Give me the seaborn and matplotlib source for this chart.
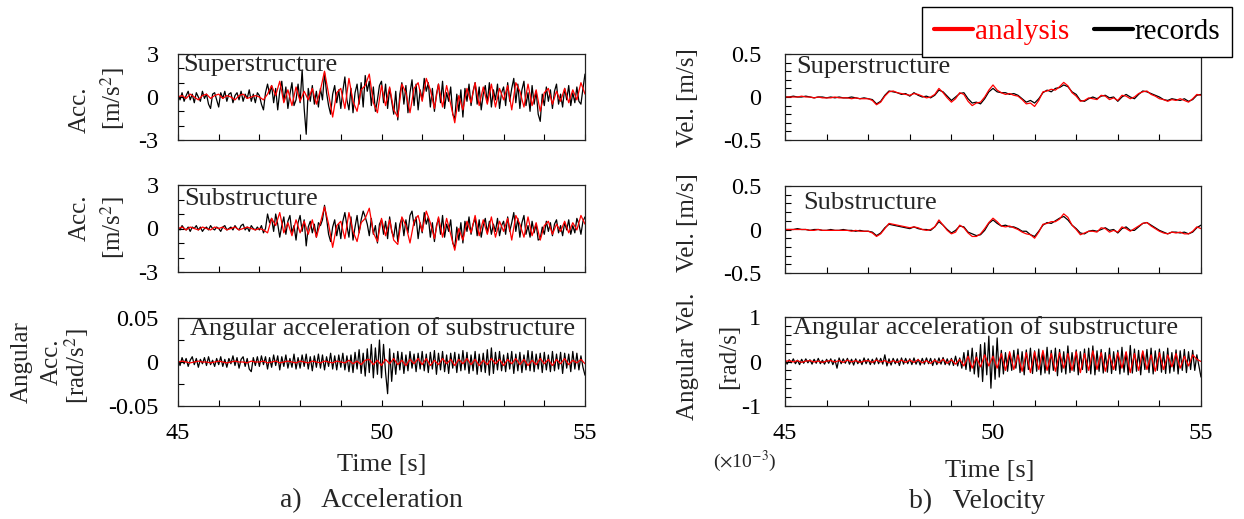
import numpy as np
import matplotlib
matplotlib.use("Agg")
import matplotlib.pyplot as plt
import seaborn as sns
from matplotlib.ticker import MultipleLocator, FixedLocator

# time axes: records sampled every 0.05 s, analysis every 0.1 s
t_fine = np.round(np.arange(45.0, 55.0001, 0.05), 2)
t_coarse = np.round(np.arange(45.0, 55.0001, 0.1), 2)

# a) Superstructure acceleration [m/s2]
acc_sup_rec = [
    0.2, -0.2, 0.3, -0.3, 0.1, 0.4, -0.2, 0.2, -0.4, 0.3, 0.0, -0.3, 0.4, -0.1, 0.2, -0.5, -0.8, 0.2, 0.3, -0.2,
    -0.7, 0.3, -0.1, 0.4, -0.3, 0.2, 0.3, -0.4, 0.1, 0.3, -0.2, 0.4, -0.3, 0.2, -0.1, 0.5, -0.3, 0.2, -0.4, 0.3,
    0.1, -0.5, -0.9, 0.3, 0.9, 0.2, 0.8, -0.4, 0.6, -0.9, 0.4, 1.1, -0.3, 0.7, -0.8, 0.2, 1.0, -0.6, -0.2, 0.9,
    -0.4, 1.9, -0.8, -2.6, 0.6, -0.3, 0.8, -0.5, 0.4, -0.7, 0.6, -0.2, 1.7, 0.3, -0.6, -1.2, 0.2, 0.8, -0.4, 0.5,
    -0.8, 0.4, 1.4, -0.2, -0.9, 0.6, -1.1, 0.3, 0.9, -0.5, 1.0, -0.7, 1.5, 0.4, 1.1, -0.6, 0.7, -1.0, -0.2, 0.8,
    1.1, -0.4, 0.9, -0.8, 0.6, -0.3, -1.2, 0.4, -1.6, 0.2, 1.0, -0.5, 0.8, -1.1, 0.3, 1.2, -0.6, 0.9, -0.9, 0.5,
    -0.2, 1.3, 0.4, 1.0, -0.7, 0.6, -1.0, 0.2, 0.9, -0.4, 1.1, -0.8, 0.3, -0.3, 0.7, -1.2, -1.5, 0.2, -1.0, 0.5,
    -1.4, 0.6, -0.3, 0.9, -0.6, 0.4, 1.0, -0.5, 0.7, -0.9, 0.2, 0.8, -0.4, 1.0, -0.7, 0.5, -0.2, 0.9, -0.8, 0.3,
    0.7, -0.6, 1.0, -0.3, 0.6, 1.3, -0.4, 0.9, -0.8, 0.5, 1.1, -0.6, 0.3, -1.0, 0.8, -0.5, 0.4, -1.2, -1.7, 0.2,
    -0.6, 0.7, -0.3, 0.5, -0.8, 0.4, 0.9, -0.5, 0.2, -0.7, 0.6, -0.2, 0.8, -0.6, 0.3, -0.4, 0.7, -0.3, -0.5, 0.6, 1.6,
]
acc_sup_ana = [
    0.0, 0.1, -0.1, 0.2, 0.0, -0.2, 0.1, 0.2, -0.1, 0.1,
    0.2, -0.1, 0.1, 0.0, -0.2, 0.1, 0.2, -0.1, 0.0, 0.1,
    0.0, -0.2, 0.2, 0.8, 0.1, 1.1, -0.4, 0.5, -0.6, 0.7,
    -0.3, 0.4, -0.2, 0.6, -0.5, 0.5, 1.8, 0.2, -1.4, 0.3,
    0.6, -0.8, 1.3, -0.3, -1.0, 0.5, 0.8, 1.6, -0.4, -1.1,
    0.8, -0.6, 0.7, -0.9, -1.4, 0.9, 0.3, -1.1, 0.6, 1.0,
    -0.3, 1.3, 0.5, -0.8, 0.9, -0.7, 0.8, -0.5, -1.8, 0.1,
    -0.9, 0.6, -0.4, 1.0, -0.6, 0.7, -0.5, 0.9, -0.7, 0.6,
    -0.2, 0.8, -0.9, 1.0, 0.4, -0.7, 0.9, -0.6, 0.5, -1.0,
    0.3, 0.6, -0.5, 0.4, -0.3, 0.6, -0.4, 0.5, -0.2, 1.0, 0.2,
]

# a) Substructure acceleration [m/s2]
acc_sub_rec = [
    0.1, -0.1, 0.2, 0.0, -0.1, 0.1, -0.2, 0.1, 0.0, 0.2, -0.1, 0.1, -0.2, 0.0, 0.1, -0.1, 0.2, 0.0, -0.1, 0.1,
    0.0, -0.2, 0.1, 0.2, -0.1, 0.0, 0.1, -0.1, 0.2, 0.0, -0.1, 0.2, 0.3, -0.1, 0.1, -0.2, 0.2, 0.0, -0.1, 0.1,
    -0.1, 0.2, -0.3, 0.0, 1.0, 0.4, 0.7, -0.2, 1.0, 0.3, -0.6, 0.2, 0.8, -0.4, 0.5, 0.9, -0.3, 0.2, -0.8, 0.4,
    0.9, -0.2, 0.6, -1.2, 0.1, 0.5, -0.3, 0.3, -0.6, 0.4, 0.2, 0.6, 1.6, 0.7, -0.4, -0.9, 0.1, 0.6, -0.5, 0.3,
    -0.7, 0.5, 1.1, 0.2, -0.6, 0.8, -0.8, 0.1, 0.9, -0.3, 0.6, 1.2, 0.8, 0.3, -0.5, 0.7, -0.4, 0.2, -1.0, 0.3,
    0.6, -0.4, 0.5, -0.7, 0.8, -0.2, -0.6, 0.4, -0.9, 0.3, 0.7, -0.5, 0.6, -0.3, 0.9, 1.2, 0.2, 0.8, -0.7, 0.4,
    -0.3, 1.1, 0.3, 0.8, -0.6, 0.4, -0.9, 0.2, 0.7, -0.4, 0.9, -0.6, 0.3, -0.2, 0.6, -1.0, -1.3, 0.1, -0.8, 0.4,
    -1.0, 0.5, -0.2, 0.8, -0.4, 0.3, 0.7, -0.5, 0.6, -0.6, 0.2, 0.7, -0.3, 0.5, -0.4, 0.3, -0.2, 0.7, -0.5, 0.2,
    0.5, -0.4, 0.8, -0.2, 0.4, 1.1, -0.2, 0.7, -0.6, 0.4, 0.9, -0.4, 0.2, -0.6, 0.5, -0.3, 0.3, -0.8, -0.7, 0.1,
    -0.4, 0.5, -0.2, 0.4, -0.5, 0.3, 0.6, -0.3, 0.2, -0.5, 0.4, -0.1, 0.6, -0.4, 0.2, -0.3, 0.7, 0.3, -0.4, 0.5, 0.8,
]
acc_sub_ana = [
    0.0, 0.1, -0.1, 0.1, 0.0, -0.1, 0.1, 0.0, -0.1, 0.1,
    0.0, 0.1, -0.1, 0.0, 0.1, -0.1, 0.0, 0.1, 0.0, -0.1,
    0.0, -0.1, -0.3, 0.7, 0.2, 1.1, -0.3, 0.4, -0.5, 0.6,
    -0.3, 0.5, -0.4, 0.6, -0.6, 0.4, 1.5, 0.3, -1.3, 0.2,
    0.5, -0.7, 1.1, -0.2, -0.9, 0.4, 0.7, 1.4, -0.3, -0.9,
    0.7, -0.5, 0.6, -0.8, -1.1, 0.8, 0.2, -1.0, 0.5, 0.9,
    -0.2, 1.2, 0.4, -0.7, 0.8, -0.6, 0.7, -0.4, -1.5, 0.0,
    -0.8, 0.5, -0.3, 0.9, -0.5, 0.6, -0.4, 0.8, -0.6, 0.5,
    -0.2, 0.7, -0.8, 0.9, 0.3, -0.6, 0.8, -0.5, 0.4, -0.8,
    0.2, 0.5, -0.4, 0.3, -0.2, 0.5, -0.3, 0.4, -0.1, 0.9, 0.3,
]

# a) Angular acceleration of substructure [x1e-3 rad/s2]
ang_acc_rec = [
    3, -4, 5, -2, 4, -5, 2, 6, -3, 4, -6, 3, -2, 5, -4, 6, -3, 2, -5, 4,
    -3, 6, -5, 3, -6, 4, -2, 7, -4, 5, -7, 3, 6, -5, 4, -8, -11, 5, -4, 6,
    -5, 7, -3, 6, -8, 5, -6, 8, -4, 7, -9, 6, -5, 8, -7, 4, -6, 9, -8, 5,
    -7, 8, -5, 9, -8, 6, -10, 7, -6, 9, -7, 8, -9, 6, -5, 10, -8, 7, -9, 8,
    -6, 10, -9, 7, -11, 8, -12, 11, -8, 14, -13, 10, -16, 15, -12, 20, -18, 16, -14, 25,
    -18, 20, -12, -36, 15, -22, 10, -14, 12, -9, 11, -13, 8, -10, 12, -7, 9, -11, 10, -8,
    12, -10, 9, -12, 11, -8, 13, -14, 10, -9, 12, -11, 8, -13, 10, -7, 11, -12, 9, -10,
    13, -9, 11, -13, 8, -10, 12, -14, 9, -11, 10, -12, 14, -15, 16, -13, 11, -9, 12, -10,
    8, -11, 10, -8, 12, -13, 9, -10, 11, -12, 8, -9, 13, -10, 12, -11, 9, -8, 10, -12,
    11, -9, 8, -11, 12, -10, 9, -8, 11, -13, 10, -7, 9, -11, 12, -8, 10, -9, 7, -6, -15,
]
ang_acc_ana = [
    0, 1, 0, -1, 0, 1, 0, 0, -1, 0,
    1, 0, -1, 0, 1, 0, 0, -1, 1, 0,
    0, 1, -1, 0, 1, -1, 0, 1, 0, -1,
    1, 0, -1, 1, 0, -1, 1, 0, -1, 1,
    0, -1, 2, -2, 1, -3, 2, 3, -3, 2,
    -4, 3, -2, 4, -3, 2, -4, 3, -2, 4,
    -3, 4, -4, 2, -3, 4, -2, 3, -4, 3,
    -2, 4, -3, 3, -4, 2, -3, 4, -2, 3,
    -4, 3, -2, 4, -3, 3, -4, 2, -3, 4,
    -2, 3, -4, 3, -2, 4, -3, 2, -1, 3, -2,
]

# b) Superstructure velocity [m/s]
vel_sup_rec = [
    0.00, 0.00, 0.01, 0.00, 0.00, 0.01, 0.00, -0.01, 0.00, 0.00,
    -0.01, 0.00, -0.01, 0.00, -0.01, -0.01, 0.00, -0.01, -0.02, -0.01,
    -0.02, -0.03, -0.08, -0.05, 0.02, 0.07, 0.06, 0.05, 0.03, 0.04,
    0.01, 0.05, 0.02, 0.00, 0.01, -0.01, 0.02, 0.08, 0.06, 0.01,
    -0.04, 0.00, 0.04, 0.05, -0.02, -0.07, -0.06, -0.08, -0.02, 0.06,
    0.10, 0.06, 0.05, 0.05, 0.03, 0.04, 0.02, -0.02, -0.06, -0.04,
    -0.07, -0.02, 0.05, 0.08, 0.06, 0.10, 0.11, 0.14, 0.12, 0.06,
    0.03, -0.04, -0.05, -0.02, 0.00, -0.02, 0.01, 0.02, -0.01, 0.00,
    -0.05, 0.00, 0.03, 0.00, -0.02, 0.03, 0.07, 0.06, 0.04, 0.02,
    0.00, -0.03, -0.04, -0.02, -0.03, -0.04, -0.02, -0.05, -0.03, 0.02, 0.03,
]
vel_sup_ana = [
    0.00, 0.00, 0.00, 0.00, 0.01, 0.00, 0.00, -0.01, 0.00, -0.01,
    -0.01, -0.01, 0.00, -0.01, -0.01, -0.01, -0.02, -0.01, -0.02, -0.02,
    -0.02, -0.04, -0.09, -0.06, 0.01, 0.06, 0.07, 0.05, 0.04, 0.03,
    0.02, 0.04, 0.03, 0.01, -0.01, 0.00, 0.03, 0.10, 0.05, -0.01,
    -0.06, -0.02, 0.05, 0.03, -0.05, -0.10, -0.07, -0.06, 0.00, 0.08,
    0.14, 0.08, 0.05, 0.03, 0.04, 0.02, 0.01, -0.03, -0.08, -0.07,
    -0.11, -0.04, 0.06, 0.07, 0.09, 0.08, 0.12, 0.17, 0.13, 0.05,
    0.01, -0.05, -0.04, -0.01, -0.02, -0.03, 0.02, 0.01, -0.03, -0.01,
    -0.04, 0.02, 0.01, -0.02, 0.00, 0.04, 0.06, 0.07, 0.03, 0.01,
    -0.02, -0.03, -0.05, -0.03, -0.04, -0.02, -0.04, -0.06, -0.02, 0.03, 0.02,
]

# b) Substructure velocity [m/s]
vel_sub_rec = [
    0.00, 0.00, 0.00, 0.01, 0.00, 0.00, -0.01, 0.00, 0.00, -0.01,
    -0.01, 0.00, -0.01, -0.01, 0.00, -0.01, -0.01, -0.02, -0.01, -0.02,
    -0.02, -0.03, -0.07, -0.04, 0.02, 0.06, 0.05, 0.04, 0.03, 0.02,
    0.01, 0.03, 0.01, 0.00, 0.00, -0.01, 0.03, 0.09, 0.05, 0.00,
    -0.04, -0.01, 0.04, 0.03, -0.03, -0.05, -0.07, -0.06, -0.01, 0.07,
    0.11, 0.07, 0.04, 0.05, 0.03, 0.03, 0.01, -0.02, -0.02, -0.06,
    -0.08, -0.02, 0.05, 0.08, 0.07, 0.10, 0.13, 0.15, 0.11, 0.05,
    0.01, -0.04, -0.05, -0.02, -0.01, -0.02, 0.00, 0.02, -0.01, 0.00,
    -0.04, 0.01, 0.03, -0.01, -0.01, 0.03, 0.07, 0.08, 0.05, 0.02,
    -0.01, -0.03, -0.05, -0.03, -0.03, -0.04, -0.03, -0.05, -0.03, 0.02, 0.05,
]
vel_sub_ana = [
    0.00, 0.00, 0.00, 0.00, 0.00, 0.00, -0.01, -0.01, 0.00, -0.01,
    -0.01, -0.01, -0.01, -0.01, -0.01, -0.01, -0.02, -0.01, -0.02, -0.02,
    -0.02, -0.04, -0.08, -0.05, 0.01, 0.07, 0.06, 0.05, 0.04, 0.03,
    0.02, 0.03, 0.02, 0.00, -0.01, 0.00, 0.03, 0.11, 0.05, -0.01,
    -0.05, -0.03, 0.05, 0.02, -0.04, -0.08, -0.08, -0.05, 0.01, 0.08,
    0.13, 0.09, 0.04, 0.03, 0.04, 0.02, 0.00, -0.03, -0.05, -0.06,
    -0.10, -0.03, 0.06, 0.07, 0.09, 0.09, 0.12, 0.18, 0.14, 0.05,
    0.00, -0.06, -0.04, -0.02, -0.02, -0.03, 0.02, 0.01, -0.03, -0.01,
    -0.03, 0.03, 0.01, -0.02, 0.01, 0.04, 0.07, 0.08, 0.04, 0.01,
    -0.02, -0.04, -0.05, -0.03, -0.04, -0.03, -0.05, -0.05, -0.02, 0.03, 0.01,
]

# b) Angular velocity of substructure [x1e-3 rad/s]
ang_vel_rec = [
    0.05, -0.06, 0.04, -0.03, 0.06, -0.05, 0.03, -0.07, 0.05, -0.04, 0.06, -0.03, 0.04, -0.06, 0.05, -0.04, 0.07, -0.05, 0.03, -0.06,
    0.05, -0.04, 0.06, -0.07, 0.04, -0.15, 0.08, -0.05, 0.06, -0.04, 0.07, -0.06, 0.05, -0.08, 0.06, -0.05, 0.04, -0.07, 0.08, -0.05,
    0.06, -0.07, 0.05, -0.06, 0.08, -0.05, 0.07, -0.06, 0.15, -0.10, 0.06, -0.08, 0.07, -0.05, 0.06, -0.09, 0.08, -0.06, 0.07, -0.05,
    0.06, -0.07, 0.08, -0.06, 0.05, -0.08, 0.07, -0.06, 0.08, -0.05, 0.07, -0.09, 0.06, -0.07, 0.08, -0.06, 0.09, -0.07, 0.06, -0.08,
    0.07, -0.09, 0.12, -0.10, 0.08, -0.15, 0.20, -0.18, 0.25, -0.22, 0.30, -0.28, 0.20, -0.35, 0.38, -0.45, 0.42, -0.30, 0.57, -0.60,
    0.35, -0.40, 0.53, -0.35, 0.25, -0.28, 0.20, -0.22, 0.18, -0.20, 0.25, -0.15, 0.28, -0.25, 0.22, -0.30, 0.26, -0.18, 0.30, -0.27,
    0.24, -0.22, 0.28, -0.30, 0.20, -0.26, 0.32, -0.28, 0.25, -0.20, 0.30, -0.32, 0.27, -0.24, 0.22, -0.28, 0.35, -0.25, 0.20, -0.22,
    0.26, -0.30, 0.22, -0.18, 0.28, -0.25, 0.30, -0.28, 0.35, -0.30, 0.24, -0.22, 0.27, -0.26, 0.20, -0.24, 0.30, -0.27, 0.22, -0.20,
    0.25, -0.28, 0.32, -0.24, 0.20, -0.30, 0.36, -0.26, 0.28, -0.22, 0.25, -0.30, 0.22, -0.18, 0.27, -0.25, 0.30, -0.28, 0.24, -0.20,
    0.28, -0.24, 0.22, -0.27, 0.30, -0.26, 0.20, -0.22, 0.26, -0.28, 0.24, -0.20, 0.27, -0.25, 0.22, -0.18, 0.25, -0.20, 0.15, -0.10, -0.35,
]
ang_vel_ana = [
    0.00, 0.02, -0.01, 0.02, -0.02, 0.01, 0.02, -0.01, 0.01, -0.02,
    0.01, 0.02, -0.01, 0.02, -0.02, 0.03, -0.01, 0.02, -0.02, 0.01,
    0.02, -0.02, 0.03, -0.01, 0.02, -0.03, 0.02, -0.02, 0.03, -0.02,
    0.03, -0.02, 0.04, -0.03, 0.02, -0.04, 0.03, -0.03, 0.05, -0.04,
    0.04, -0.06, 0.05, -0.10, 0.12, -0.15, 0.10, -0.12, 0.15, -0.10,
    0.12, -0.15, 0.18, -0.20, 0.22, -0.18, 0.15, -0.22, 0.20, -0.25,
    0.22, -0.18, 0.25, -0.20, 0.18, -0.22, 0.20, -0.15, 0.18, -0.20,
    0.22, -0.25, 0.18, -0.20, 0.24, -0.18, 0.20, -0.22, 0.15, -0.18,
    0.20, -0.15, 0.22, -0.25, 0.18, -0.20, 0.24, -0.18, 0.15, -0.22,
    0.20, -0.18, 0.15, -0.12, 0.18, -0.15, 0.12, -0.10, 0.15, 0.05, 0.00,
]

W, H = 1244, 519

sns.set_style("ticks")
plt.rcParams['font.family'] = ['Liberation Serif', 'DejaVu Serif']
plt.rcParams['mathtext.fontset'] = 'stix'
plt.rcParams['axes.unicode_minus'] = False

TICK_FS = 17.5
PANEL_FS = 19
LABEL_FS = 18


def px_axes(fig, x0, y0, x1, y1):
    """Add axes from pixel box (top-left origin)"""
    return fig.add_axes([x0 / W, 1 - y1 / H, (x1 - x0) / W, (y1 - y0) / H])


def style_axes(ax, ylim, yticks, yminor, show_xlabels, ypad):
    ax.set_xlim(45, 55)
    ax.set_ylim(*ylim)
    ax.xaxis.set_major_locator(FixedLocator([45, 50, 55]))
    ax.xaxis.set_minor_locator(MultipleLocator(1))
    ax.yaxis.set_major_locator(FixedLocator(yticks))
    ax.yaxis.set_minor_locator(MultipleLocator(yminor))
    ax.tick_params(which='both', direction='in', length=4.5, width=0.8,
                   top=False, right=False, colors='black', labelsize=TICK_FS)
    ax.tick_params(axis='y', which='major', pad=ypad)
    ax.tick_params(axis='x', which='major', pad=12)
    if not show_xlabels:
        ax.set_xticklabels([])
    for s in ax.spines.values():
        s.set_color('#222222')
        s.set_linewidth(0.9)
    ax.set_xlabel('')
    ax.set_ylabel('')


def draw(ax, rec, ana, scale=1.0):
    sns.lineplot(x=t_fine, y=np.array(rec) * scale, ax=ax, color='black', lw=0.9)
    sns.lineplot(x=t_coarse, y=np.array(ana) * scale, ax=ax, color='red', lw=0.9)


fig = plt.figure(figsize=(W / 100, H / 100), dpi=100)

# ---- a) Acceleration ----
ax1 = px_axes(fig, 178, 54, 585, 140)
draw(ax1, acc_sup_rec, acc_sup_ana)
style_axes(ax1, (-3, 3), [-3, 0, 3], 1, False, 14)
ax1.text(0.012, 1.0, 'Superstructure', transform=ax1.transAxes, ha='left', va='top', fontsize=PANEL_FS)

ax2 = px_axes(fig, 178, 185, 585, 272)
draw(ax2, acc_sub_rec, acc_sub_ana)
style_axes(ax2, (-3, 3), [-3, 0, 3], 1, False, 14)
ax2.text(0.015, 0.96, 'Substructure', transform=ax2.transAxes, ha='left', va='top', fontsize=PANEL_FS)

ax3 = px_axes(fig, 178, 318, 585, 406)
draw(ax3, ang_acc_rec, ang_acc_ana, scale=1e-3)
style_axes(ax3, (-0.05, 0.05), [-0.05, 0, 0.05], 0.025, True, 14)
ax3.set_yticklabels(['-0.05', '0', '0.05'])
ax3.text(0.03, 1.01, 'Angular acceleration of substructure', transform=ax3.transAxes,
         ha='left', va='top', fontsize=PANEL_FS)

# ---- b) Velocity ----
ax4 = px_axes(fig, 785, 54, 1201, 140)
sns.lineplot(x=t_coarse, y=vel_sup_rec, ax=ax4, color='black', lw=0.9)
sns.lineplot(x=t_coarse, y=vel_sup_ana, ax=ax4, color='red', lw=0.9)
style_axes(ax4, (-0.5, 0.5), [-0.5, 0, 0.5], 0.1, False, 17)
ax4.set_yticklabels(['-0.5', '0', '0.5'])
ax4.text(0.028, 0.98, 'Superstructure', transform=ax4.transAxes, ha='left', va='top', fontsize=PANEL_FS)

ax5 = px_axes(fig, 785, 186, 1201, 273)
sns.lineplot(x=t_coarse, y=vel_sub_rec, ax=ax5, color='black', lw=0.9)
sns.lineplot(x=t_coarse, y=vel_sub_ana, ax=ax5, color='red', lw=0.9)
style_axes(ax5, (-0.5, 0.5), [-0.5, 0, 0.5], 0.1, False, 17)
ax5.set_yticklabels(['-0.5', '0', '0.5'])
ax5.text(0.043, 0.93, 'Substructure', transform=ax5.transAxes, ha='left', va='top', fontsize=PANEL_FS)

ax6 = px_axes(fig, 785, 317, 1201, 406)
draw(ax6, ang_vel_rec, ang_vel_ana)
style_axes(ax6, (-1, 1), [-1, 0, 1], 0.2, True, 17)
ax6.text(0.02, 1.01, 'Angular acceleration of substructure', transform=ax6.transAxes,
         ha='left', va='top', fontsize=PANEL_FS)


def ftext(x, y, s, **kw):
    fig.text(x / W, 1 - y / H, s, ha='center', va='center', **kw)


# y axis labels
ftext(80, 110, 'Acc.', rotation=90, fontsize=LABEL_FS)
ftext(113, 98, '[m/s$^2$]', rotation=90, fontsize=LABEL_FS)
ftext(80, 218, 'Acc.', rotation=90, fontsize=LABEL_FS)
ftext(113, 227, '[m/s$^2$]', rotation=90, fontsize=LABEL_FS)
ftext(22, 362, 'Angular', rotation=90, fontsize=LABEL_FS)
ftext(52, 362, 'Acc.', rotation=90, fontsize=LABEL_FS)
ftext(77, 366, '[rad/s$^2$]', rotation=90, fontsize=LABEL_FS)
ftext(688, 98, 'Vel. [m/s]', rotation=90, fontsize=LABEL_FS)
ftext(688, 223, 'Vel. [m/s]', rotation=90, fontsize=LABEL_FS)
ftext(688, 356, 'Angular Vel.', rotation=90, fontsize=LABEL_FS)
ftext(729, 356, '[rad/s]', rotation=90, fontsize=LABEL_FS)

# x labels, captions
ftext(382, 465, 'Time [s]', fontsize=19)
ftext(990, 471, 'Time [s]', fontsize=19)
ftext(745, 461, '($\\times$10$^{-3}$)', fontsize=14)
ftext(371, 501, 'a)   Acceleration', fontsize=20)
ftext(977, 501, 'b)   Velocity', fontsize=20)

# legend
handles = [plt.Line2D([], [], color='red', lw=3), plt.Line2D([], [], color='black', lw=3)]
leg = fig.legend(handles, ['analysis', 'records'], loc='upper right',
                 bbox_to_anchor=(1232 / W, 1 - 7 / H), ncol=2, frameon=True, fancybox=False,
                 fontsize=21, handlelength=1.35, handletextpad=0.05, columnspacing=0.85,
                 borderpad=0.4, labelcolor=['red', 'black'], borderaxespad=0)
leg.get_frame().set_edgecolor('black')
leg.get_frame().set_linewidth(1.0)
leg.get_frame().set_alpha(1)

fig.savefig('out.png', dpi=100)
